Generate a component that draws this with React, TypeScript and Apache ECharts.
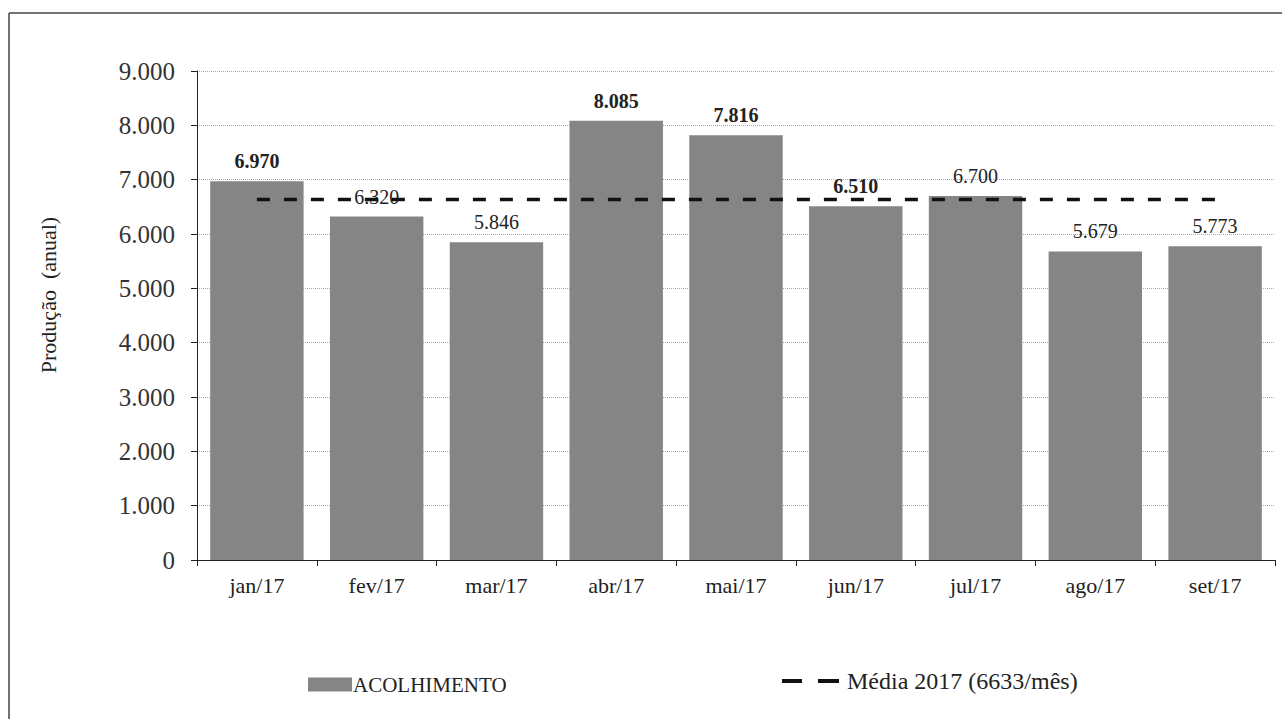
import React, { useEffect, useRef } from "react";
import * as echarts from "echarts";

const categories = ["jan/17", "fev/17", "mar/17", "abr/17", "mai/17", "jun/17", "jul/17", "ago/17", "set/17"];
const acolhimento = [6970, 6320, 5846, 8085, 7816, 6510, 6700, 5679, 5773];
const boldLabels = [true, false, false, true, true, true, false, false, false];
const mediaValue = 6633;
const media = categories.map(() => mediaValue);
const barLegend = "ACOLHIMENTO";
const lineLegend = "Média 2017 (6633/mês)";
const yAxisName = "Produção  (anual)";

const fmt = (v: number) => {
  const s = String(Math.round(v));
  return s.replace(/\B(?=(\d{3})+(?!\d))/g, ".");
};

const FONT = "'Liberation Serif', 'DejaVu Serif', serif";

export default function App() {
  const ref = useRef<HTMLDivElement>(null);
  useEffect(() => {
    const chart = echarts.init(ref.current!, null, { renderer: "svg" });
    chart.setOption({
      animation: false,
      backgroundColor: "#fff",
      textStyle: { fontFamily: FONT },
      graphic: [
        { type: "line", shape: { x1: 9, y1: 13, x2: 1282, y2: 13 }, style: { stroke: "#444", lineWidth: 1.5 } },
        { type: "line", shape: { x1: 9, y1: 13, x2: 9, y2: 719 }, style: { stroke: "#444", lineWidth: 1.5 } },
        { type: "rect", shape: { x: 782, y: 679, width: 20, height: 4 }, style: { fill: "#111" } },
        { type: "rect", shape: { x: 818, y: 679, width: 21, height: 4 }, style: { fill: "#111" } },
        {
          type: "text",
          x: 847,
          y: 681,
          style: { text: lineLegend, fontFamily: FONT, fontSize: 24, fill: "#222", textVerticalAlign: "middle" },
        },
        {
          type: "text",
          x: 48,
          y: 295,
          rotation: Math.PI / 2,
          style: {
            text: yAxisName,
            fontFamily: FONT,
            fontSize: 22,
            fill: "#222",
            textAlign: "center",
            textVerticalAlign: "middle",
          },
        },
      ],
      grid: { left: 197, right: 7, top: 71, bottom: 159 },
      legend: {
        top: 669,
        left: 303,
        itemGap: 10,
        itemWidth: 44,
        itemHeight: 14,
        textStyle: { fontFamily: FONT, fontSize: 21, color: "#222", padding: [0, 0, 0, -4] },
        data: [{ name: barLegend, icon: "rect" }],
      },
      xAxis: {
        type: "category",
        data: categories,
        axisLine: { lineStyle: { color: "#222", width: 1 } },
        axisTick: { show: true, alignWithLabel: false, length: 6, lineStyle: { color: "#222" } },
        axisLabel: { fontFamily: FONT, fontSize: 22, color: "#222", margin: 14 },
      },
      yAxis: {
        type: "value",
        min: 0,
        max: 9000,
        interval: 1000,
        axisLine: { show: true, lineStyle: { color: "#222", width: 1 } },
        axisTick: { show: true, length: 6, lineStyle: { color: "#222" } },
        axisLabel: { fontFamily: FONT, fontSize: 25, color: "#333", margin: 22, formatter: (v: number) => fmt(v) },
        splitLine: { show: true, lineStyle: { color: "#aaa", type: "dotted", width: 1 } },
      },
      series: [
        {
          name: barLegend,
          type: "bar",
          data: acolhimento.map((v, i) => ({
            value: v,
            label: { fontWeight: boldLabels[i] ? "bold" : "normal", fontFamily: FONT },
          })),
          barCategoryGap: "22%",
          itemStyle: { color: "#858585" },
          label: {
            show: true,
            position: "top",
            distance: 10,
            fontFamily: FONT,
            fontSize: 20,
            color: "#222",
            formatter: (p: any) => fmt(p.value),
          },
          z: 2,
        },
        {
          name: lineLegend,
          type: "line",
          data: media,
          symbol: "none",
          lineStyle: { color: "#111", width: 3.5, type: [13, 14] },
          itemStyle: { color: "#111" },
          z: 3,
        },
      ],
    });
    return () => chart.dispose();
  }, []);
  return <div ref={ref} style={{ width: 1282, height: 719, position: "absolute", left: 0, top: 0 }} />;
}
